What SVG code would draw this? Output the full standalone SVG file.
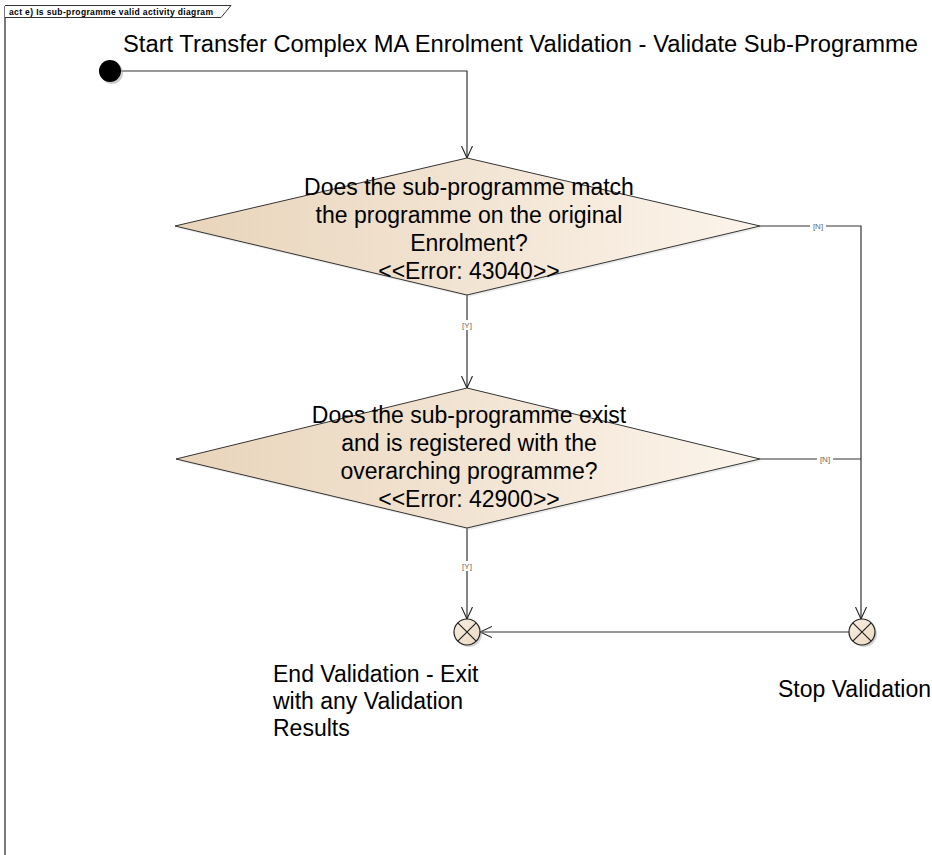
<svg xmlns="http://www.w3.org/2000/svg" width="932" height="855" viewBox="0 0 932 855">
<style>
.t{font-family:"Liberation Sans",Arial,sans-serif;font-size:23px;fill:#000}
.c{text-anchor:middle}
.g{font-family:"Liberation Sans",Arial,sans-serif;font-size:8px;fill:#666;text-anchor:middle}
.ln{fill:none;stroke:#333;stroke-width:1.2}
.dia{fill:url(#grad);stroke:#333;stroke-width:1}
.fin{fill:url(#grad2);stroke:#222;stroke-width:1.2}
</style>
<defs>
<linearGradient id="grad" x1="0" y1="0" x2="1" y2="0">
<stop offset="0" stop-color="#E8D4BA"/>
<stop offset="1" stop-color="#FCF4EB"/>
</linearGradient>
<linearGradient id="grad2" x1="0" y1="0" x2="1" y2="1">
<stop offset="0" stop-color="#F8EEE2"/>
<stop offset="1" stop-color="#EBD9C2"/>
</linearGradient>
<marker id="arr" viewBox="0 0 12 12" refX="12" refY="6" markerWidth="12" markerHeight="12" markerUnits="userSpaceOnUse" orient="auto">
<path d="M0,0.5 L12,6 L0,11.5" fill="none" stroke="#222" stroke-width="1.1"/>
</marker>
</defs>
<g id="frame">
<line x1="5" y1="6" x2="5" y2="855" stroke="#7a7a7a" stroke-width="2"/>
<path d="M5,5.5 L231,5.5 L221,17.5 L5,17.5" fill="#fff" stroke="#333" stroke-width="1"/>
<text x="9" y="14.5" font-family="Liberation Sans,Arial,sans-serif" font-size="8.5" font-weight="bold" textLength="204" lengthAdjust="spacing">act e) Is sub-programme valid activity diagram</text>
</g>
<g id="connectors">
<path class="ln" d="M121,71 L467,71 L467,158" marker-end="url(#arr)"/>
<path class="ln" d="M467,295 L467,388" marker-end="url(#arr)"/>
<path class="ln" d="M467,528 L467,619" marker-end="url(#arr)"/>
<path class="ln" d="M760,226 L861,226 L861,619" marker-end="url(#arr)"/>
<path class="ln" d="M760,459 L861,459"/>
<path class="ln" d="M849,632 L480,632" marker-end="url(#arr)"/>
<rect x="459" y="320" width="16" height="10" fill="#fff"/>
<text class="g" x="467" y="328">[Y]</text>
<rect x="459" y="561" width="16" height="10" fill="#fff"/>
<text class="g" x="467" y="569">[Y]</text>
<rect x="810" y="221" width="16" height="10" fill="#fff"/>
<text class="g" x="818" y="229">[N]</text>
<rect x="817" y="454" width="16" height="10" fill="#fff"/>
<text class="g" x="825" y="462">[N]</text>
</g>
<g id="start">
<circle cx="112" cy="73" r="11" fill="#999" opacity="0.5"/>
<circle cx="110" cy="71" r="11" fill="#000"/>
<text class="t" x="123" y="52" textLength="795" lengthAdjust="spacingAndGlyphs">Start Transfer Complex MA Enrolment Validation - Validate Sub-Programme</text>
</g>
<g id="decision1">
<polygon points="469,160 762,228 469,297 177,228" fill="#bbb" opacity="0.3"/>
<polygon class="dia" points="467,158 760,226 467,295 175,226"/>
<text class="t c" x="469" y="195">Does the sub-programme match</text>
<text class="t c" x="469" y="223">the programme on the original</text>
<text class="t c" x="469" y="251">Enrolment?</text>
<text class="t c" x="469" y="279">&lt;&lt;Error: 43040&gt;&gt;</text>
</g>
<g id="decision2">
<polygon points="469,390 762,461 469,530 178,461" fill="#bbb" opacity="0.3"/>
<polygon class="dia" points="467,388 760,459 467,528 176,459"/>
<text class="t c" x="469" y="423">Does the sub-programme exist</text>
<text class="t c" x="469" y="451">and is registered with the</text>
<text class="t c" x="469" y="479">overarching programme?</text>
<text class="t c" x="469" y="507">&lt;&lt;Error: 42900&gt;&gt;</text>
</g>
<g id="endValidation">
<circle cx="469" cy="634" r="13" fill="#aaa" opacity="0.5"/>
<circle class="fin" cx="467" cy="632" r="13"/>
<path d="M457.8,622.8 L476.2,641.2 M476.2,622.8 L457.8,641.2" stroke="#222" stroke-width="1.2"/>
<text class="t" x="273" y="682">End Validation - Exit</text>
<text class="t" x="273" y="709">with any Validation</text>
<text class="t" x="273" y="736">Results</text>
</g>
<g id="stopValidation">
<circle cx="864" cy="634" r="13" fill="#aaa" opacity="0.5"/>
<circle class="fin" cx="862" cy="632" r="13"/>
<path d="M852.8,622.8 L871.2,641.2 M871.2,622.8 L852.8,641.2" stroke="#222" stroke-width="1.2"/>
<text class="t" x="778" y="697">Stop Validation</text>
</g>
</svg>
